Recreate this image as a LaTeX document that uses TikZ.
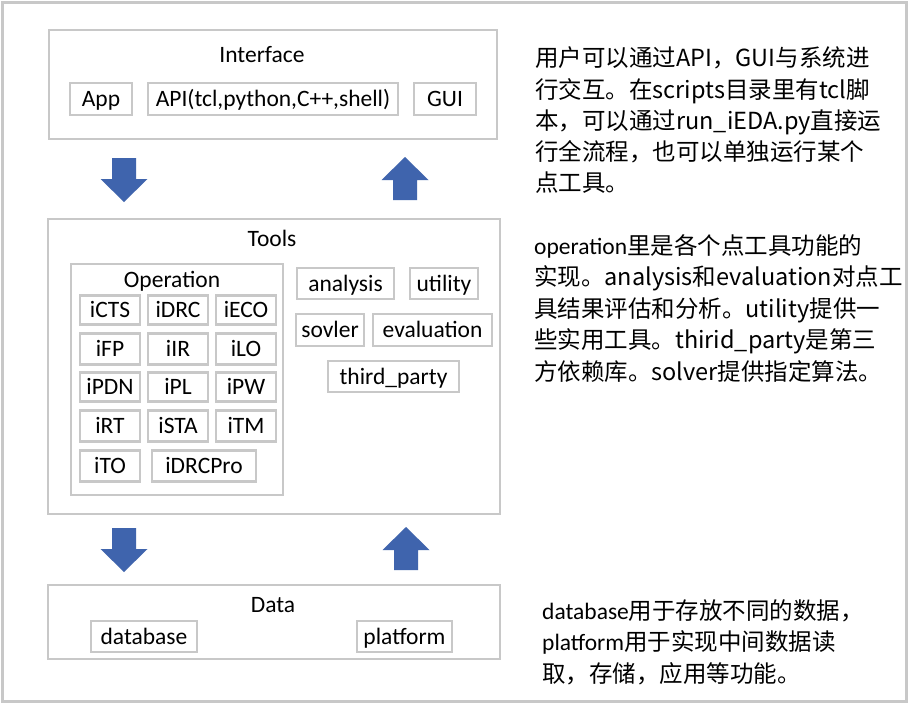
\documentclass[tikz,border=0pt]{standalone}
\usepackage{fontspec}
\setmainfont{Carlito}
\newfontfamily\cjk{Noto Sans CJK SC}
\definecolor{boxgray}{RGB}{200,200,200}
\definecolor{arrowblue}{RGB}{63,100,173}
\tikzset{
  box/.style={draw=boxgray, line width=2.8pt, inner sep=0pt, outer sep=0pt, text height=16pt, text depth=1pt},
  lbl/.style={inner sep=0pt, anchor=base},
  para/.style={inner sep=0pt, anchor=base west},
  blockdown/.pic={\fill[arrowblue] (-12,0) -- (12,0) -- (12,21) -- (23.5,21) -- (0,44) -- (-23.5,21) -- (-12,21) -- cycle;},
  blockup/.pic={\fill[arrowblue] (-12,0) -- (12,0) -- (12,-20) -- (23.5,-20) -- (0,-43) -- (-23.5,-20) -- (-12,-20) -- cycle;}
}
\begin{document}
\begin{tikzpicture}[x=1pt,y=-1pt,font=\fontsize{23.5}{31}\selectfont]
\useasboundingbox (0,0) rectangle (910,704);
\fill[white] (0,0) rectangle (910,704);
\draw[draw=boxgray, line width=3pt] (2.5,2.5) rectangle (906.5,701.5);

% Interface
\node[box, minimum width=448pt, minimum height=109pt] (iface) at (273,84.5) {};
\node[lbl] (ifacelbl) at (262,62) {Interface};
\node[box, minimum width=62pt, minimum height=32pt] (app) at (101,99) {App};
\node[box, minimum width=250pt, minimum height=32pt] (api) at (273,99) {API(tcl,python,C++,shell)};
\node[box, minimum width=62pt, minimum height=32pt] (gui) at (445,99) {GUI};

% arrows interface/tools
\pic at (124,158) {blockdown};
\pic at (405,200) {blockup};

% Tools
\node[box, minimum width=452pt, minimum height=295pt] (tools) at (274,366.5) {};
\node[lbl] (toolslbl) at (272,246) {Tools};
\node[box, minimum width=212pt, minimum height=231pt] (oper) at (177,379.5) {};
\node[lbl] (operlbl) at (172,287.5) {Operation};

\node[box, minimum width=60pt, minimum height=29pt] (icts) at (110,310) {iCTS};
\node[box, minimum width=60pt, minimum height=29pt] (idrc) at (178,310) {iDRC};
\node[box, minimum width=60pt, minimum height=29pt] (ieco) at (246,310) {iECO};
\node[box, minimum width=60pt, minimum height=31pt] (ifp) at (110,349) {iFP};
\node[box, minimum width=60pt, minimum height=31pt] (iir) at (178,349) {iIR};
\node[box, minimum width=60pt, minimum height=31pt] (ilo) at (246,349) {iLO};
\node[box, minimum width=60pt, minimum height=29pt] (ipdn) at (110,387) {iPDN};
\node[box, minimum width=60pt, minimum height=29pt] (ipl) at (178,387) {iPL};
\node[box, minimum width=60pt, minimum height=29pt] (ipw) at (246,387) {iPW};
\node[box, minimum width=60pt, minimum height=31pt] (irt) at (110,426) {iRT};
\node[box, minimum width=60pt, minimum height=31pt] (ista) at (178,426) {iSTA};
\node[box, minimum width=60pt, minimum height=31pt] (itm) at (246,426) {iTM};
\node[box, minimum width=60pt, minimum height=31pt] (ito) at (110,466) {iTO};
\node[box, minimum width=104pt, minimum height=31pt] (idrcpro) at (204,466) {iDRCPro};

\node[box, minimum width=97pt, minimum height=31pt] (analysis) at (345.5,283.5) {analysis};
\node[box, minimum width=68pt, minimum height=31pt] (utility) at (444,283.5) {utility};
\node[box, minimum width=68pt, minimum height=32pt] (sovler) at (330,330) {sovler};
\node[box, minimum width=119pt, minimum height=32pt] (evaluation) at (432.5,330) {evaluation};
\node[box, minimum width=131pt, minimum height=31pt] (thirdparty) at (393.5,376.5) {third\_party};

% arrows tools/data
\pic at (124,528) {blockdown};
\pic at (406,570) {blockup};

% Data
\node[box, minimum width=452pt, minimum height=74pt] (data) at (274,622) {};
\node[lbl] (datalbl) at (273,612.5) {Data};
\node[box, minimum width=106pt, minimum height=31pt] (database) at (144,636.5) {database};
\node[box, minimum width=95pt, minimum height=31pt] (platform) at (404.5,636.5) {platform};

% Descriptions
\node[para] (pa1) at (535,66) {\cjk{用户可以通过}API\cjk{，}GUI\cjk{与系统进}};
\node[para] (pa2) at (535,98) {\cjk{行交互。在}scripts\cjk{目录里有}tcl\cjk{脚}};
\node[para] (pa3) at (535,129) {\cjk{本，可以通过}run\_iEDA.py\cjk{直接运}};
\node[para] (pa4) at (535,160) {\cjk{行全流程，也可以单独运行某个}};
\node[para] (pa5) at (535,191) {\cjk{点工具。}};

\node[para] (pb1) at (534,254) {operation\cjk{里是各个点工具功能的}};
\node[para] (pb2) at (534,285) {\cjk{实现。}analysis\cjk{和}evaluation\cjk{对点工}};
\node[para] (pb3) at (534,317) {\cjk{具结果评估和分析。}utility\cjk{提供一}};
\node[para] (pb4) at (534,348) {\cjk{些实用工具。}thirid\_party\cjk{是第三}};
\node[para] (pb5) at (534,380) {\cjk{方依赖库。}solver\cjk{提供指定算法。}};

\node[para] (pc1) at (542,619) {database\cjk{用于存放不同的数据，}};
\node[para] (pc2) at (542,650) {platform\cjk{用于实现中间数据读}};
\node[para] (pc3) at (542,682) {\cjk{取，存储，应用等功能。}};
\end{tikzpicture}
\end{document}
